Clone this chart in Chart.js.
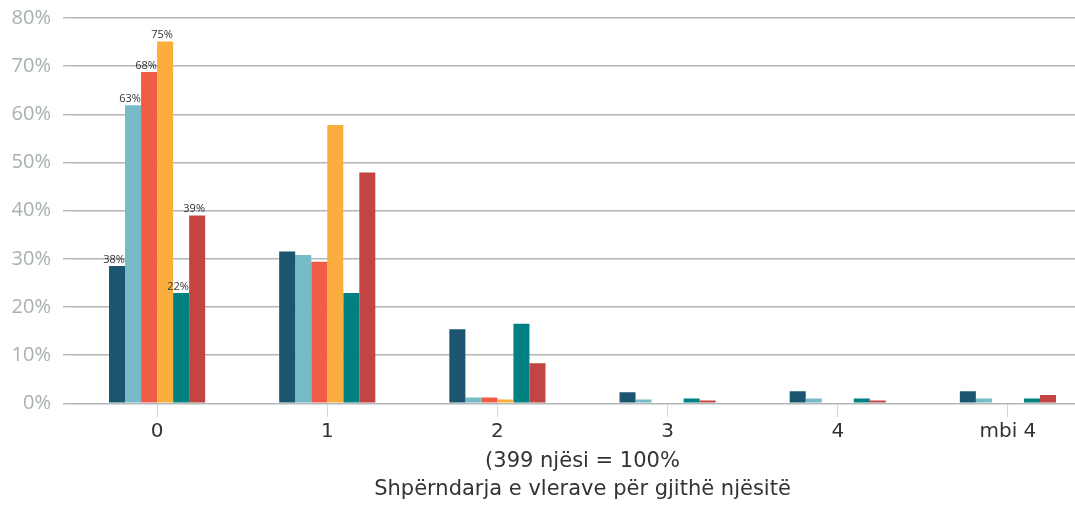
<!DOCTYPE html>
<html>
<head>
<meta charset="utf-8">
<script src="https://cdn.jsdelivr.net/npm/chart.js@4"></script>
<style>
  html, body { margin: 0; padding: 0; background: #fff; overflow: hidden; }
  #wrap { position: relative; width: 1093px; height: 505px; }
</style>
</head>
<body>
<div id="wrap"><canvas id="barGraph"></canvas></div>
<script>
'use strict'

const categories = ['0', '1', '2', '3', '4', 'mbi 4'];

const seriesA = [28.5, 31.5, 15.4, 2.3, 2.5, 2.5];
const seriesB = [61.9, 30.8, 1.2, 0.8, 1.0, 1.0];
const seriesC = [68.8, 29.4, 1.2, 0, 0, 0];
const seriesD = [75.1, 57.8, 0.8, 0, 0, 0];
const seriesE = [22.9, 22.9, 16.5, 1.0, 1.0, 1.0];
const seriesF = [39.0, 47.9, 8.3, 0.6, 0.6, 1.7];

// labels printed above the bars of the first group only
const firstGroupLabels = ['38%', '63%', '68%', '75%', '22%', '39%'];

const yTicks = [0, 10, 20, 30, 40, 50, 60, 70, 80];

const colors = ['#1b5570', '#76bbc6', '#f05c45', '#fbad3e', '#008080', '#c24543'];

{
  const allSeries = [seriesA, seriesB, seriesC, seriesD, seriesE, seriesF];

  const data = {
    labels: categories,
    datasets: allSeries.map((values, i) => ({
      label: 'Seria ' + (i + 1),
      data: values,
      backgroundColor: colors[i],
      borderWidth: 0,
      barPercentage: 1,
      categoryPercentage: 0.565,
    }))
  };

  const groupLabels = {
    id: 'groupLabels',
    afterDatasetsDraw(chart) {
      const ctx = chart.ctx;
      ctx.save();
      ctx.font = '11px "Open Sans"';
      ctx.fillStyle = '#333';
      ctx.textAlign = 'center';
      ctx.textBaseline = 'bottom';
      chart.data.datasets.forEach((ds, i) => {
        const bar = chart.getDatasetMeta(i).data[0];
        ctx.fillText(firstGroupLabels[i], bar.x - 3, bar.y - 1);
      });
      ctx.restore();
    }
  };

  const options = {
    responsive: true,
    maintainAspectRatio: false,
    animation: false,
    layout: { padding: { top: 18, right: 0, bottom: 1, left: 0 } },
    scales: {
      x: {
        border: { display: false },
        grid: {
          offset: false,
          drawOnChartArea: false,
          drawTicks: true,
          tickLength: 14,
          color: '#cfdcdc',
          lineWidth: 1,
        },
        ticks: {
          color: '#333',
          padding: 2,
          font: { family: 'DejaVu Sans', size: 20 },
        },
        title: {
          display: true,
          text: ['(399 njësi = 100%', 'Shpërndarja e vlerave për gjithë njësitë'],
          color: '#333',
          font: { family: 'DejaVu Sans', size: 21, lineHeight: 1.35 },
          padding: { top: 2, bottom: 0 },
        },
      },
      y: {
        min: 0,
        max: 80,
        afterBuildTicks: (scale) => {
          scale.ticks = yTicks.map(v => ({ value: v }));
        },
        afterFit: (scale) => {
          scale.width = 72;
          scale.paddingTop = 0;
          scale.paddingBottom = 0;
        },
        border: { display: false },
        grid: {
          color: '#b0b8b8',
          lineWidth: 1.4,
          tickLength: 9,
        },
        ticks: {
          color: '#a8b0b0',
          padding: 12,
          font: { family: 'Open Sans', size: 20 },
          callback: function(value) {
            return value + '%';
          }
        },
      },
    },
    plugins: {
      legend: { display: false },
      tooltip: { enabled: false },
    },
  };

  const ctx = document.getElementById('barGraph').getContext('2d');
  const hoursGraph = new Chart(ctx, {
    type: 'bar',
    data: data,
    options: options,
    plugins: [groupLabels],
  });
}
</script>
</body>
</html>
